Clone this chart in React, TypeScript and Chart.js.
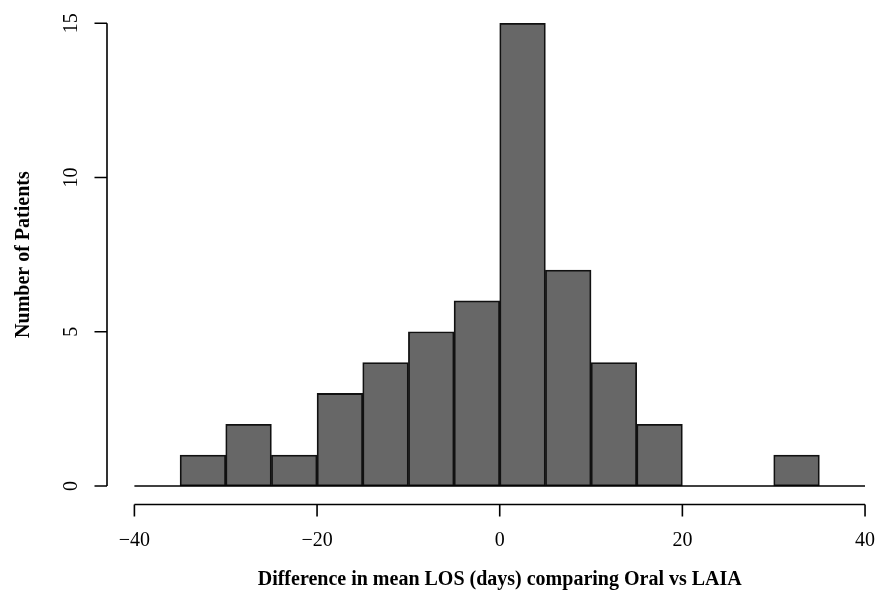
import React, { useEffect, useRef } from "react";
import { Chart, registerables } from "chart.js";

Chart.register(...registerables);

const binStarts = [-35, -30, -25, -20, -15, -10, -5, 0, 5, 10, 15, 20, 25, 30];
const counts = [1, 2, 1, 3, 4, 5, 6, 15, 7, 4, 2, 0, 0, 1];
const binWidth = 5;
const xTicks = [-40, -20, 0, 20, 40];
const yTicks = [0, 5, 10, 15];
const xTitle = "Difference in mean LOS (days) comparing Oral vs LAIA";
const yTitle = "Number of Patients";

const FONT = "'Liberation Serif', 'DejaVu Serif', serif";

function fmt(v: number) {
  return v < 0 ? "\u2212" + Math.abs(v) : String(v);
}

const axesPlugin = {
  id: "rAxes",
  afterDraw(chart: any) {
    const ctx = chart.ctx as CanvasRenderingContext2D;
    const xs = chart.scales.x;
    const ys = chart.scales.y;
    const area = chart.chartArea;
    ctx.save();
    ctx.strokeStyle = "#000";
    ctx.fillStyle = "#000";
    ctx.lineWidth = 1.6;

    // x axis
    const xAxisY = area.bottom;
    const x0 = xs.getPixelForValue(xTicks[0]);
    const x1 = xs.getPixelForValue(xTicks[xTicks.length - 1]);
    ctx.beginPath();
    ctx.moveTo(x0, xAxisY);
    ctx.lineTo(x1, xAxisY);
    xTicks.forEach((t) => {
      const px = xs.getPixelForValue(t);
      ctx.moveTo(px, xAxisY);
      ctx.lineTo(px, xAxisY + 12);
    });
    ctx.stroke();
    ctx.font = "20px " + FONT;
    ctx.textAlign = "center";
    ctx.textBaseline = "middle";
    xTicks.forEach((t) => {
      ctx.fillText(fmt(t), xs.getPixelForValue(t), xAxisY + 36);
    });

    // y axis
    const yAxisX = area.left;
    const y0 = ys.getPixelForValue(yTicks[0]);
    const y1 = ys.getPixelForValue(yTicks[yTicks.length - 1]);
    ctx.beginPath();
    ctx.moveTo(yAxisX, y0);
    ctx.lineTo(yAxisX, y1);
    yTicks.forEach((t) => {
      const py = ys.getPixelForValue(t);
      ctx.moveTo(yAxisX, py);
      ctx.lineTo(yAxisX - 12.5, py);
    });
    ctx.stroke();
    yTicks.forEach((t) => {
      const py = ys.getPixelForValue(t);
      ctx.save();
      ctx.translate(yAxisX - 35, py);
      ctx.rotate(-Math.PI / 2);
      ctx.fillText(fmt(t), 0, 0);
      ctx.restore();
    });

    // titles
    ctx.font = "bold 20px " + FONT;
    const cx = (xs.getPixelForValue(xTicks[0]) + xs.getPixelForValue(xTicks[xTicks.length - 1])) / 2;
    ctx.fillText(xTitle, cx, 580);
    const cy = (y0 + y1) / 2;
    ctx.save();
    ctx.translate(24, cy);
    ctx.rotate(-Math.PI / 2);
    ctx.fillText(yTitle, 0, 0);
    ctx.restore();
    ctx.restore();
  },
};

export default function App() {
  const ref = useRef<HTMLCanvasElement | null>(null);
  useEffect(() => {
    if (!ref.current) return;
    const chart = new Chart(ref.current, {
      type: "bar",
      data: {
        datasets: [
          {
            type: "line" as any,
            data: [
              { x: xTicks[0], y: 0 },
              { x: xTicks[xTicks.length - 1], y: 0 },
            ],
            borderColor: "#000",
            borderWidth: 1.6,
            pointRadius: 0,
            order: 0,
          } as any,
          {
            type: "bar",
            data: binStarts.map((s, i) => ({ x: s + binWidth / 2, y: counts[i] })),
            backgroundColor: "#676767",
            borderColor: "#111",
            borderWidth: 1.8,
            borderSkipped: false,
            barPercentage: 1,
            categoryPercentage: 1,
            order: 1,
          } as any,
        ],
      },
      options: {
        animation: false,
        responsive: true,
        maintainAspectRatio: false,
        devicePixelRatio: 1,
        layout: { padding: { left: 107, right: 0, top: 4.7, bottom: 91.5 } },
        plugins: { legend: { display: false }, tooltip: { enabled: false } },
        scales: {
          x: { type: "linear", min: -43, max: 41.2, display: false, offset: false },
          y: { type: "linear", min: -0.6, max: 15.6, display: false },
        },
      },
      plugins: [axesPlugin],
    });
    return () => chart.destroy();
  }, []);
  return (
    <div style={{ position: "absolute", left: 0, top: 0, width: 876, height: 596, background: "#fff" }}>
      <canvas ref={ref} />
    </div>
  );
}
